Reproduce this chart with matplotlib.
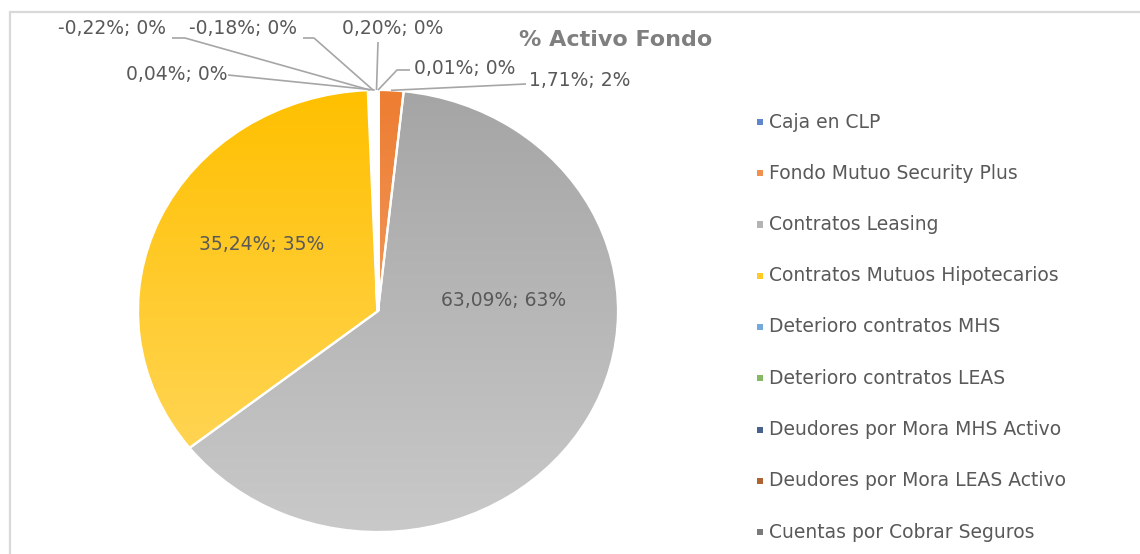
import numpy as np
import matplotlib
matplotlib.use("Agg")
import matplotlib.pyplot as plt
from matplotlib.colors import LinearSegmentedColormap, to_rgb
from matplotlib.lines import Line2D
from matplotlib.patches import Rectangle

# ---------------- data ----------------
categories = ["Caja en CLP", "Fondo Mutuo Security Plus", "Contratos Leasing",
              "Contratos Mutuos Hipotecarios", "Deterioro contratos MHS",
              "Deterioro contratos LEAS", "Deudores por Mora MHS Activo",
              "Deudores por Mora LEAS Activo", "Cuentas por Cobrar Seguros"]
values = [0.01, 1.71, 63.09, 35.24, -0.22, -0.18, 0.04, 0.20, 0.00]
title = "% Activo Fondo"

colors = ["#4472C4", "#ED7D31", "#A5A5A5", "#FFC000", "#5B9BD5",
          "#70AD47", "#264478", "#9E480E", "#636363"]

W, H = 1140, 554
fig = plt.figure(figsize=(W / 100, H / 100), dpi=100)
plt.rcParams['font.family'] = ['DejaVu Sans']


def P(x, y):
    """top-left pixel -> figure fraction"""
    return x / W, (H - y) / H


def fmt(v):
    return f"{v:.2f}".replace(".", ",") + "%"


# chart border (right and bottom edges lie outside the picture)
bx = [P(10.5, H + 2)[0], P(10.5, 11.5)[0], P(W + 2, 11.5)[0]]
by = [P(10.5, H + 2)[1], P(10.5, 11.5)[1], P(W + 2, 11.5)[1]]
fig.add_artist(Line2D(bx, by, transform=fig.transFigure, color="#D9D9D9",
                      linewidth=1.6, solid_joinstyle="miter"))

# pie axes (chart is horizontally stretched -> ellipse)
cx0, cy0, cx1, cy1 = 138, 90, 618, 532
ax = fig.add_axes([cx0 / W, (H - cy1) / H, (cx1 - cx0) / W, (cy1 - cy0) / H])
sizes = np.abs(np.array(values))
wedges, _ = ax.pie(sizes, colors=colors, startangle=90, counterclock=False,
                   wedgeprops=dict(edgecolor="white", linewidth=1.6))


def tint(c, f):
    r = np.array(to_rgb(c))
    return tuple(r + (1 - r) * f)


grad = np.linspace(0, 1, 256).reshape(-1, 1)
for w, c, s in zip(wedges, colors, sizes):
    if s > 1:
        cmap = LinearSegmentedColormap.from_list("g", [tint(c, 0.4), to_rgb(c)])
        im = ax.imshow(grad, extent=(-1, 1, -1, 1), origin="lower", cmap=cmap,
                       aspect="auto", zorder=0.5, interpolation="bilinear")
        im.set_clip_path(w)
        w.set_facecolor("none")
        w.set_zorder(1)
    else:
        w.set_linewidth(2.6)
ax.set_xlim(-1, 1)
ax.set_ylim(-1, 1)
ax.set_aspect("auto")
ax.axis("off")

total = sizes.sum()
txt_color = "#595959"
line_color = "#A6A6A6"
fs = 13.5

# anchors on the wedges (outer edge at mid angle)
anchors = []
for w in wedges:
    ang = np.deg2rad((w.theta1 + w.theta2) / 2)
    px = ax.transData.transform((np.cos(ang) * 1.0, np.sin(ang) * 1.0))
    fx, fy = fig.transFigure.inverted().transform(px)
    anchors.append((fx, fy))

# label layout: index -> (text center px, leader points px)
layout = {
    0: ((465, 69), [(410, 70), (397, 70)]),
    1: ((580, 81), [(526, 84)]),
    2: ((504, 300), None),
    3: ((262, 244), None),
    4: ((112, 28), [(172, 38), (185, 38)]),
    5: ((243, 28), [(303, 38), (314, 38)]),
    6: ((177, 74), [(228, 75)]),
    7: ((393, 28), [(378, 42)]),
}

for i, v in enumerate(values):
    if v == 0:
        continue
    pct = round(sizes[i] / total * 100)
    label = f"{fmt(v)}; {pct}%"
    (tx, ty), pts = layout[i]
    fig.text(*P(tx, ty), label, ha="center", va="center", fontsize=fs, color=txt_color)
    if pts:
        xs = [P(x, y)[0] for x, y in pts] + [anchors[i][0]]
        ys = [P(x, y)[1] for x, y in pts] + [anchors[i][1]]
        fig.add_artist(Line2D(xs, ys, transform=fig.transFigure, color=line_color,
                              linewidth=1.2, solid_capstyle="butt"))

# title
fig.text(*P(616, 40), title, ha="center", va="center", fontsize=16,
         fontweight="bold", color="#7F7F7F")

# legend
pitch = 51.25
for i, (cat, c) in enumerate(zip(categories, colors)):
    y = 122 + i * pitch
    fig.patches.append(Rectangle(P(757, y + 3), 6 / W, 6 / H, transform=fig.transFigure,
                                 facecolor=tint(c, 0.15), edgecolor="none"))
    fig.text(*P(769, y), cat, ha="left", va="center", fontsize=fs, color=txt_color)

fig.savefig("out.png", dpi=100)
